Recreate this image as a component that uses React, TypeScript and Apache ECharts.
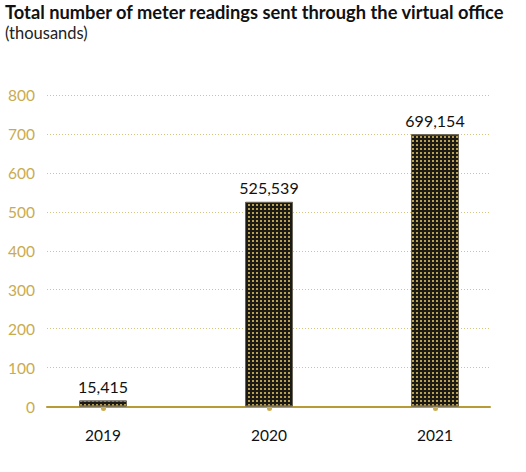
import * as React from "react";
import * as echarts from "echarts";

const years = ["2019", "2020", "2021"];
const readings = [15.415, 525.539, 699.154]; // thousands
const readingLabels = ["15,415", "525,539", "699,154"];
const yTicks = [0, 100, 200, 300, 400, 500, 600, 700, 800];

const GOLD = "#c9ab4f";
const FONT = "Lato, 'Open Sans', sans-serif";

export default function App() {
  const ref = React.useRef<HTMLDivElement | null>(null);

  React.useEffect(() => {
    if (!ref.current) return;
    const chart = echarts.init(ref.current, undefined, { renderer: "svg" });
    const option: echarts.EChartsOption = {
      animation: false,
      textStyle: { fontFamily: FONT },
      title: {
        text: "Total number of meter readings sent through the virtual office",
        subtext: "(thousands)",
        left: 5,
        top: 3,
        padding: 0,
        itemGap: 3,
        textStyle: { fontSize: 18.3, fontWeight: "bold", color: "#111", fontFamily: FONT },
        subtextStyle: { fontSize: 16.5, color: "#222", fontFamily: FONT },
      },
      grid: [
        // axis frame: gridlines + baseline
        { left: 47, right: 36, top: 95, bottom: 65.5 },
        // bars
        { left: 20, right: 8, top: 95, bottom: 65.5 },
      ],
      xAxis: [
        {
          gridIndex: 0,
          type: "value",
          min: 0,
          max: 1,
          axisLine: { show: true, onZero: false, lineStyle: { color: "#b89a36", width: 2 } },
          axisTick: { show: false },
          axisLabel: { show: false },
          splitLine: { show: false },
        },
        {
          gridIndex: 1,
          type: "category",
          data: years,
          axisLine: { show: false },
          axisTick: {
            show: true,
            alignWithLabel: true,
            inside: false,
            length: 2,
            lineStyle: { color: "#c9ad55", width: 5, cap: "round" },
          },
          axisLabel: { color: "#111", fontSize: 15.5, margin: 20, fontFamily: FONT },
        },
      ],
      yAxis: [
        {
          gridIndex: 0,
          type: "value",
          min: yTicks[0],
          max: yTicks[yTicks.length - 1],
          interval: 100,
          axisLine: { show: false },
          axisTick: { show: false },
          axisLabel: { color: GOLD, fontSize: 15.5, margin: 12, fontFamily: FONT },
          splitLine: { show: true, lineStyle: { color: "#d8c482", type: [1, 2], width: 1 } },
        },
        {
          gridIndex: 1,
          type: "value",
          min: yTicks[0],
          max: yTicks[yTicks.length - 1],
          show: false,
          splitLine: { show: false },
        },
      ],
      series: [
        {
          type: "bar",
          xAxisIndex: 1,
          yAxisIndex: 1,
          data: readings,
          barWidth: 48,
          z: 1,
          itemStyle: {
            color: "#1b1a16",
            borderColor: "#6a6458",
            borderWidth: 1,
            decal: {
              symbol: "rect",
              color: "#b8a04e",
              symbolSize: 1,
              dashArrayX: [1.4, 1.6],
              dashArrayY: [1.4, 1.6],
              rotation: 0,
            },
          },
          label: {
            show: true,
            position: "top",
            distance: 6,
            color: "#111",
            fontSize: 16,
            fontFamily: FONT,
            formatter: (p: any) => readingLabels[p.dataIndex],
          },
        },
      ],
    };
    chart.setOption(option);
    return () => chart.dispose();
  }, []);

  return (
    <div
      ref={ref}
      style={{ position: "absolute", left: 0, top: 0, width: 526, height: 472 }}
    />
  );
}
